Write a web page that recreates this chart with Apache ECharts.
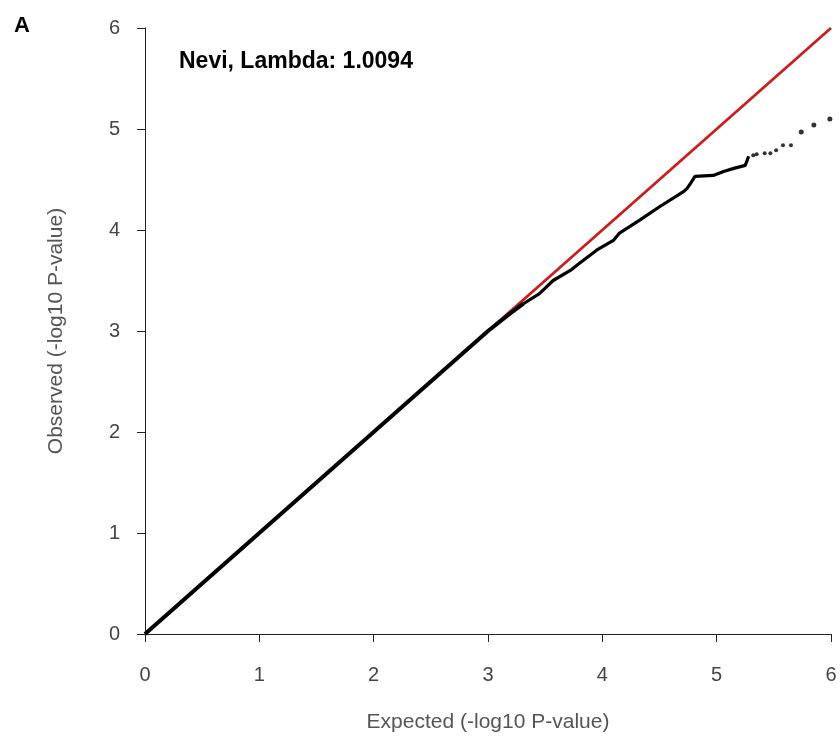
<!DOCTYPE html>
<html>
<head>
<meta charset="utf-8">
<script src="https://cdn.jsdelivr.net/npm/echarts@6/dist/echarts.min.js"></script>
<style>
  html, body { margin: 0; padding: 0; background: #fff; }
  #chart { width: 840px; height: 747px; }
</style>
</head>
<body>
<div id="chart"></div>
<script>
// QQ plot, Nevi: expected vs observed -log10 p
const ticks = [0, 1, 2, 3, 4, 5, 6]

// dense lower part of the QQ curve
const lowExpected = [0, 1, 2, 3.0, 3.2, 3.31]
const lowObserved = [0, 1, 2, 3.0, 3.18, 3.27]

// upper part, where it bends away from the null line
const upExpected = [3.31, 3.45, 3.57, 3.72, 3.80, 3.95, 4.10, 4.15, 4.33, 4.50, 4.71, 4.74, 4.77, 4.81, 4.97, 5.06, 5.15, 5.25, 5.28]
const upObserved = [3.27, 3.37, 3.50, 3.60, 3.67, 3.80, 3.90, 3.97, 4.10, 4.23, 4.38, 4.41, 4.46, 4.53, 4.54, 4.58, 4.61, 4.64, 4.73]

// sparse tail points
const tailExpected = [5.32, 5.35, 5.42, 5.47, 5.52, 5.58, 5.65, 5.74, 5.85, 5.99]
const tailObserved = [4.74, 4.75, 4.76, 4.76, 4.79, 4.84, 4.84, 4.97, 5.04, 5.10]
const tailSizes = [4, 4, 4, 4, 4, 4, 4, 5, 5, 5]

// null line y = x
const nullLine = [[0, 0], [6, 6]]

const chart = echarts.init(document.getElementById('chart'))

const font = 'Liberation Sans, Arial, sans-serif'

const axisCommon = {
  type: 'value',
  min: 0,
  max: 6,
  interval: 1,
  splitLine: { show: false },
  axisLine: { show: true, onZero: false, lineStyle: { color: '#222', width: 1 } },
  axisTick: { show: true, length: 8, lineStyle: { color: '#222' } },
  axisLabel: { color: '#444', fontSize: 20, fontFamily: font },
  nameLocation: 'middle',
  nameTextStyle: { color: '#555', fontSize: 21, fontFamily: font }
}

const zip = (xs, ys) => xs.map((x, i) => [x, ys[i]])

chart.setOption({
  animation: false,
  title: [
    { text: 'A', left: 9, top: 10, textStyle: { fontSize: 22, fontWeight: 'bold', color: '#000', fontFamily: font } },
    { text: 'Nevi, Lambda: 1.0094', left: 174, top: 45, textStyle: { fontSize: 23, fontWeight: 'bold', color: '#000', fontFamily: font } }
  ],
  grid: { left: 145, right: 9, top: 28, bottom: 113 },
  xAxis: {
    ...axisCommon,
    name: 'Expected (-log10 P-value)',
    nameGap: 78,
    axisLabel: { ...axisCommon.axisLabel, margin: 31, formatter: v => String(ticks[v]) }
  },
  yAxis: {
    ...axisCommon,
    name: 'Observed (-log10 P-value)',
    nameGap: 78,
    axisLabel: { ...axisCommon.axisLabel, margin: 25, formatter: v => String(ticks[v]) }
  },
  series: [
    {
      type: 'line',
      data: nullLine,
      symbol: 'none',
      lineStyle: { color: '#c81e1e', width: 2.8 },
      z: 2
    },
    {
      type: 'line',
      data: zip(lowExpected, lowObserved),
      symbol: 'none',
      lineStyle: { color: '#000', width: 4 },
      z: 3
    },
    {
      type: 'line',
      data: zip(upExpected, upObserved),
      symbol: 'none',
      lineStyle: { color: '#000', width: 3.2 },
      z: 3
    },
    {
      type: 'scatter',
      data: zip(tailExpected, tailObserved),
      symbolSize: (v, p) => tailSizes[p.dataIndex],
      itemStyle: { color: '#000' },
      z: 3
    }
  ]
})
</script>
</body>
</html>
